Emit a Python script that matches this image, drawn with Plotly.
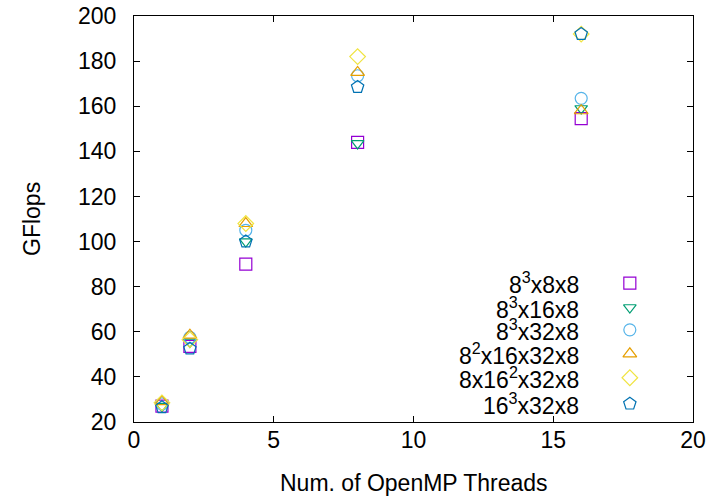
import plotly.graph_objects as go

threads = [1, 2, 4, 8, 16]
series_names = ["8<sup>3</sup>x8x8", "8<sup>3</sup>x16x8", "8<sup>3</sup>x32x8",
                "8<sup>2</sup>x16x32x8", "8x16<sup>2</sup>x32x8", "16<sup>3</sup>x32x8"]
gf_8x8 = [27, 53.5, 90, 144, 154.5]
gf_16x8 = [27, 55.5, 100, 143.5, 159]
gf_32x8 = [28, 57.5, 105, 173.5, 163.5]
gf_2_16_32 = [29, 58.5, 108, 175, 158]
gf_16sq_32 = [28.5, 56.5, 108, 182, 192]
gf_16cube = [26.5, 52.5, 100, 168.5, 192]
series_values = [gf_8x8, gf_16x8, gf_32x8, gf_2_16_32, gf_16sq_32, gf_16cube]

x_ticks = [0, 5, 10, 15, 20]
y_ticks = [20, 40, 60, 80, 100, 120, 140, 160, 180, 200]
x_title = "Num. of OpenMP Threads"
y_title = "GFlops"

symbols = ["square-open", "triangle-down-open", "circle-open",
           "triangle-up-open", "diamond-open", "pentagon-open"]
colors = ["#9400d3", "#009e73", "#56b4e9", "#e69f00", "#f0e442", "#0072b2"]
sizes = [12, 11, 12, 12, 12, 13]

# legend layout (in overlay axis fraction units)
leg_sym_x = 0.887
leg_txt_x = 0.800
leg_y = [0.342, 0.282, 0.227, 0.168, 0.109, 0.045]

FONT = "Liberation Sans, Arial, sans-serif"
FS = 23

fig = go.Figure()
for name, vals, sym, col, sz in zip(series_names, series_values, symbols, colors, sizes):
    fig.add_trace(go.Scatter(
        x=threads, y=vals, mode="markers", name=name, showlegend=False,
        marker=dict(symbol=sym, size=sz, color=col, line=dict(width=1.2, color=col)),
        xaxis="x", yaxis="y"))

for name, sym, col, sz, ly in zip(series_names, symbols, colors, sizes, leg_y):
    fig.add_trace(go.Scatter(
        x=[leg_sym_x], y=[ly], mode="markers", showlegend=False, hoverinfo="skip",
        marker=dict(symbol=sym, size=sz, color=col, line=dict(width=1.2, color=col)),
        xaxis="x2", yaxis="y2"))
    fig.add_annotation(x=leg_txt_x, y=ly, xref="x2", yref="y2", text=name,
                       showarrow=False, xanchor="right", yanchor="middle",
                       font=dict(family=FONT, size=FS, color="black"))

# axis titles
fig.add_annotation(x=0.5, y=-0.150, xref="paper", yref="paper", text=x_title,
                   showarrow=False, xanchor="center", yanchor="middle",
                   font=dict(family=FONT, size=FS, color="black"))
fig.add_annotation(x=-0.1825, y=0.5, xref="paper", yref="paper", text=y_title,
                   showarrow=False, xanchor="center", yanchor="middle", textangle=-90,
                   font=dict(family=FONT, size=FS, color="black"))

axis_common = dict(showline=True, linecolor="black", linewidth=1.3, mirror="ticks",
                   ticks="inside", ticklen=6, tickcolor="black", tickwidth=1,
                   showgrid=False, zeroline=False, automargin=False,
                   tickfont=dict(family=FONT, size=FS, color="black"))

fig.update_layout(
    width=716, height=496,
    margin=dict(l=134, r=23, t=16, b=74),
    plot_bgcolor="white", paper_bgcolor="white",
    xaxis=dict(range=[0, 20], tickvals=x_ticks, ticklabelstandoff=-3, **axis_common),
    yaxis=dict(range=[20, 200], tickvals=y_ticks, ticklabelstandoff=12, **axis_common),
    xaxis2=dict(range=[0, 1], overlaying="x", visible=False, fixedrange=True),
    yaxis2=dict(range=[0, 1], overlaying="y", visible=False, fixedrange=True),
)

fig.write_html("out.html", config={"displayModeBar": False},
               post_script="document.body.style.margin='0';")
